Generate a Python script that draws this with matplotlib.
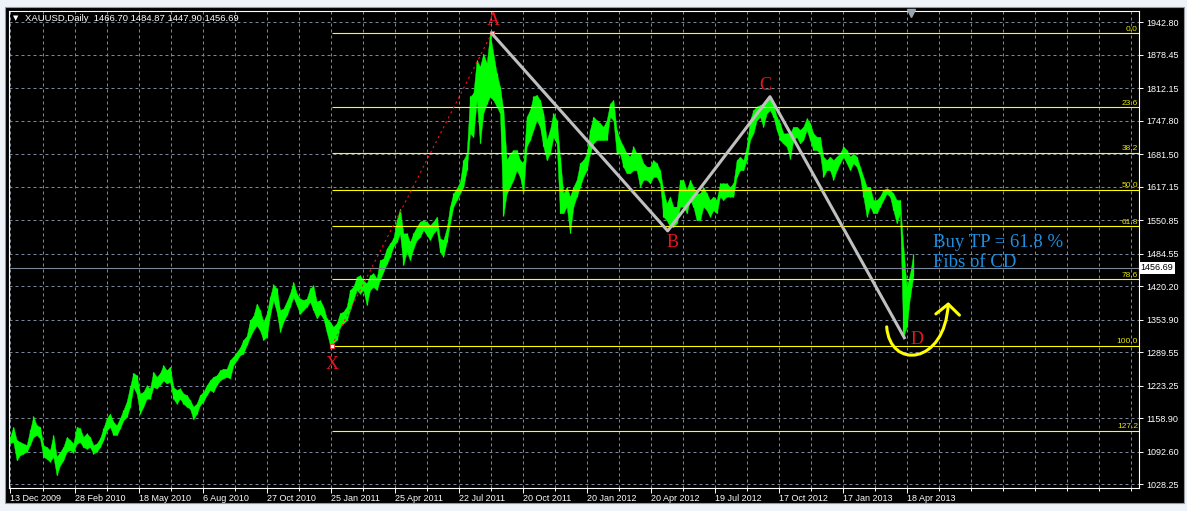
import numpy as np
import matplotlib.pyplot as plt
import matplotlib.transforms as mtransforms
from matplotlib.patches import Rectangle, FancyArrowPatch
from matplotlib.path import Path

plt.rcParams['font.family'] = ['Liberation Sans', 'DejaVu Sans']

# XAUUSD daily: high / low every 10/3 bars, first bar = 13 Dec 2009
bar_step = 10 / 3
high = [1122, 1142, 1116, 1112, 1109, 1106, 1135, 1163, 1145, 1142,
        1106, 1102, 1096, 1126, 1083, 1092, 1102, 1122, 1116, 1109,
        1142, 1139, 1122, 1129, 1122, 1106, 1109, 1119, 1139, 1159,
        1168, 1152, 1145, 1159, 1175, 1192, 1221, 1249, 1244, 1208,
        1211, 1224, 1218, 1251, 1241, 1248, 1264, 1254, 1261, 1221,
        1215, 1218, 1208, 1205, 1195, 1182, 1188, 1205, 1211, 1224,
        1234, 1241, 1244, 1254, 1257, 1257, 1274, 1281, 1290, 1299,
        1314, 1322, 1353, 1361, 1386, 1373, 1350, 1366, 1399, 1424,
        1416, 1373, 1376, 1390, 1406, 1429, 1406, 1396, 1393, 1396,
        1416, 1422, 1390, 1393, 1380, 1357, 1350, 1340,
        1347, 1367, 1370, 1380, 1413, 1419, 1439, 1442, 1432, 1426,
        1442, 1446, 1436, 1472, 1475, 1495, 1505, 1515, 1551, 1574,
        1525, 1525, 1508, 1525, 1538, 1548, 1551, 1548, 1541, 1548,
        1558, 1515, 1512, 1535, 1578, 1604, 1614, 1627,
        1670, 1683, 1796, 1802, 1868,
        1855, 1881, 1862, 1921, 1881, 1842, 1815, 1769, 1670, 1683,
        1690, 1690, 1670, 1664, 1756, 1769, 1796, 1799, 1789, 1763,
        1710, 1730, 1763, 1749, 1677, 1604, 1617, 1598, 1617, 1631,
        1664, 1670, 1683, 1730, 1756, 1749, 1743, 1736, 1749, 1782,
        1789, 1730, 1710, 1697, 1683, 1677, 1697, 1683, 1683, 1664,
        1657, 1657, 1670, 1664, 1650, 1611, 1584, 1598, 1578, 1578,
        1631, 1631, 1611, 1631, 1617, 1604, 1604, 1617, 1604, 1591,
        1598, 1591, 1624, 1624, 1624, 1617, 1624, 1670, 1677, 1670,
        1697, 1749, 1769, 1776, 1779,
        1782, 1789, 1792, 1782, 1756, 1743, 1723, 1723, 1723, 1736,
        1736, 1730, 1736, 1753, 1743, 1723, 1716, 1716, 1677, 1670,
        1677, 1670, 1677, 1683, 1697, 1690, 1677, 1683, 1677, 1657,
        1637, 1617, 1617, 1591, 1591, 1598, 1611, 1614, 1611, 1604,
        1591, 1591, 1498, 1419, 1445, 1485]
low = [1110, 1112, 1076, 1086, 1089, 1093, 1106, 1122, 1126, 1119,
       1083, 1079, 1073, 1083, 1046, 1066, 1076, 1093, 1096, 1091,
       1109, 1112, 1102, 1099, 1102, 1089, 1093, 1102, 1116, 1135,
       1142, 1126, 1126, 1139, 1155, 1162, 1182, 1221, 1208, 1168,
       1182, 1198, 1198, 1221, 1218, 1225, 1234, 1228, 1231, 1198,
       1188, 1198, 1188, 1182, 1178, 1157, 1168, 1185, 1192, 1205,
       1215, 1211, 1225, 1234, 1238, 1241, 1238, 1264, 1274, 1284,
       1287, 1304, 1320, 1333, 1343, 1333, 1314, 1320, 1363, 1393,
       1370, 1330, 1350, 1363, 1380, 1399, 1383, 1366, 1373, 1380,
       1390, 1373, 1357, 1366, 1357, 1330, 1304, 1308,
       1314, 1340, 1347, 1353, 1373, 1393, 1413, 1406, 1413, 1383,
       1413, 1419, 1413, 1433, 1449, 1465, 1479, 1499, 1508, 1525,
       1462, 1489, 1472, 1495, 1512, 1518, 1532, 1522, 1512, 1525,
       1532, 1489, 1479, 1508, 1545, 1578, 1591, 1604,
       1617, 1650, 1723, 1716, 1789,
       1703, 1763, 1782, 1796, 1789, 1776, 1763, 1560, 1604, 1617,
       1631, 1650, 1637, 1604, 1697, 1710, 1730, 1749, 1736, 1697,
       1670, 1683, 1716, 1703, 1565, 1565, 1578, 1525, 1578, 1598,
       1617, 1637, 1650, 1683, 1703, 1710, 1710, 1710, 1710, 1756,
       1749, 1683, 1683, 1657, 1644, 1644, 1650, 1650, 1617, 1631,
       1631, 1624, 1637, 1637, 1624, 1558, 1551, 1538, 1538, 1545,
       1578, 1578, 1565, 1591, 1578, 1551, 1551, 1578, 1571, 1558,
       1571, 1565, 1598, 1591, 1598, 1598, 1598, 1637, 1650, 1650,
       1670, 1710, 1723, 1749, 1756,
       1736, 1763, 1769, 1756, 1730, 1710, 1703, 1697, 1673, 1710,
       1716, 1703, 1710, 1730, 1710, 1690, 1690, 1683, 1637, 1650,
       1650, 1631, 1650, 1664, 1677, 1664, 1650, 1664, 1657, 1637,
       1598, 1558, 1578, 1565, 1565, 1578, 1591, 1604, 1598, 1571,
       1545, 1565, 1320, 1340, 1400, 1440]
bars = np.arange(len(high)) * bar_step

last_ohlc = [1466.70, 1484.87, 1447.90, 1456.69]
last_price = last_ohlc[3]

price_ticks = [1942.80, 1878.45, 1812.15, 1747.80, 1681.50, 1617.15, 1550.85, 1484.55,
               1420.20, 1353.90, 1289.55, 1223.25, 1158.90, 1092.60, 1028.25]
date_labels = ['13 Dec 2009', '28 Feb 2010', '18 May 2010', '6 Aug 2010', '27 Oct 2010',
               '25 Jan 2011', '25 Apr 2011', '22 Jul 2011', '20 Oct 2011', '20 Jan 2012',
               '20 Apr 2012', '19 Jul 2012', '17 Oct 2012', '17 Jan 2013', '18 Apr 2013']
date_bars = [0, 64.7, 128.7, 192.7, 256.7, 320.7, 384.7, 448.7, 512.7, 576.7,
             640.7, 704.7, 768.7, 832.7, 896.7]

# XABCD harmonic points
pt_names = ['X', 'A', 'B', 'C', 'D']
pt_bars = [321.7, 481.7, 657.7, 760.0, 894.3]
pt_prices = [1302.5, 1921.0, 1530.0, 1795.6, 1318.5]
pt_label_offsets = [(0.6, -17), (1, 6), (3.8, -11.3), (-3.2, 4.8), (9.1, -4.5)]

fib_levels = [0.0, 23.6, 38.2, 50.0, 61.8, 78.6, 100.0, 127.2]

W, H = 1187, 511
fig = plt.figure(figsize=(W / 100, H / 100), dpi=100, facecolor='#EEF2F9')
fig.add_artist(Rectangle((5 / W, 1 - 503 / H), 1179 / W, 496 / H, transform=fig.transFigure,
                         fc='black', ec='#9A9A9A', lw=0.8, zorder=-5))
ax = fig.add_axes([9.5 / W, 1 - 487.7 / H, (1139 - 9.5) / W, (487.7 - 10.7) / H])
ax.set_facecolor('black')
ax.set_xlim(-0.5, 1129)
ax.set_ylim(1021.6, 1965.8)

for s in ax.spines.values():
    s.set_color('white')
    s.set_linewidth(0.8)

# grid / axes
grid_col = '#7B8899'
grid_bars = [32.7 + 32 * k for k in range(35)]
ax.set_xticks(date_bars, date_labels)
ax.set_xticks(grid_bars, minor=True)
ax.yaxis.tick_right()
ax.set_yticks(price_ticks, ['%.2f' % p for p in price_ticks])
ax.grid(which='both', axis='x', color=grid_col, ls=(0, (3, 3)), lw=0.72, zorder=0)
ax.grid(which='major', axis='y', color=grid_col, ls=(0, (3, 3)), lw=0.72, zorder=0)
ax.set_axisbelow(True)
ax.tick_params(axis='x', which='major', length=3.5, width=0.7, color='white',
               labelcolor='white', labelsize=6.5, pad=1)
ax.tick_params(axis='x', which='minor', length=2, width=0.7, color='white')
ax.tick_params(axis='y', length=3, width=0.7, color='white', labelcolor='white',
               labelsize=6.5, pad=2)
plt.setp(ax.get_xticklabels(), ha='left')

# price bars
ax.fill_between(bars, low, high, color='#00FF00', lw=0.3, zorder=2)
ax.vlines(bars, low, high, color='#00FF00', lw=0.9, zorder=2)

# current price line + label
ax.axhline(last_price, color='#7B8899', lw=0.8, zorder=2.5)
trans = mtransforms.blended_transform_factory(ax.transAxes, ax.transData)
ax.text(1.0015, last_price, '1456.69', transform=trans, ha='left', va='center',
        fontsize=6.5, color='black', clip_on=False,
        bbox=dict(boxstyle='square,pad=0.2', fc='white', ec='none'))

# fibonacci retracement X -> A
fib_top, fib_base = pt_prices[1], pt_prices[0]
for lv in fib_levels:
    p = fib_top - lv / 100 * (fib_top - fib_base)
    ax.hlines(p, pt_bars[0], 1129, color='#FFFF00', lw=0.8, zorder=3)
    ax.annotate('%.1f' % lv, (1128, p), xytext=(0, 0.3), textcoords='offset points',
                ha='right', va='bottom', fontsize=6, color='#E6E600', zorder=3)
ax.plot(pt_bars[:2], pt_prices[:2], color='#FF1010', lw=0.8, ls=(0, (2, 3)), zorder=3)
ax.plot(pt_bars[:2], pt_prices[:2], ls='none', marker='s', ms=3, mfc='white',
        mec='#FF3030', mew=0.6, zorder=4)

# ABCD zigzag
ax.plot(pt_bars[1:], pt_prices[1:], color='#C0C0C0', lw=2.2, zorder=4)
for name, b, p, off in zip(pt_names, pt_bars, pt_prices, pt_label_offsets):
    ax.annotate(name, (b, p), xytext=off, textcoords='offset points', ha='center',
                va='baseline', fontsize=13, color='#E8141E', family='Liberation Serif',
                zorder=5)

ax.text(923, 1498.6, 'Buy TP = 61.8 %', fontsize=13.5, color='#1E8FE0',
        family='Liberation Serif', va='baseline', zorder=5)
ax.text(923, 1459, 'Fibs of CD', fontsize=13.5, color='#1E8FE0',
        family='Liberation Serif', va='baseline', zorder=5)

# hand drawn yellow arrow
arc = Path([(876.7, 1340), (880, 1255), (935, 1264), (938.3, 1389)],
           [Path.MOVETO, Path.CURVE4, Path.CURVE4, Path.CURVE4])
ax.add_patch(FancyArrowPatch(path=arc, arrowstyle='->,head_length=0.75,head_width=0.85',
                             mutation_scale=10, color='#FFFF00', lw=2.2, zorder=5))

# chart shift marker
ax.plot([901], [1961], marker='v', ms=6, color='#9AA4B0', clip_on=False, zorder=6)

# header
fig.text(13 / W, 1 - 18.5 / H, '\u25bc', fontsize=5, color='white', va='center',
         family='DejaVu Sans')
fig.text(25 / W, 1 - 18.7 / H, 'XAUUSD,Daily  ' + ' '.join('%.2f' % v for v in last_ohlc),
         fontsize=6.8, color='white', va='center')

fig.savefig('out.png', dpi=100, facecolor=fig.get_facecolor())
